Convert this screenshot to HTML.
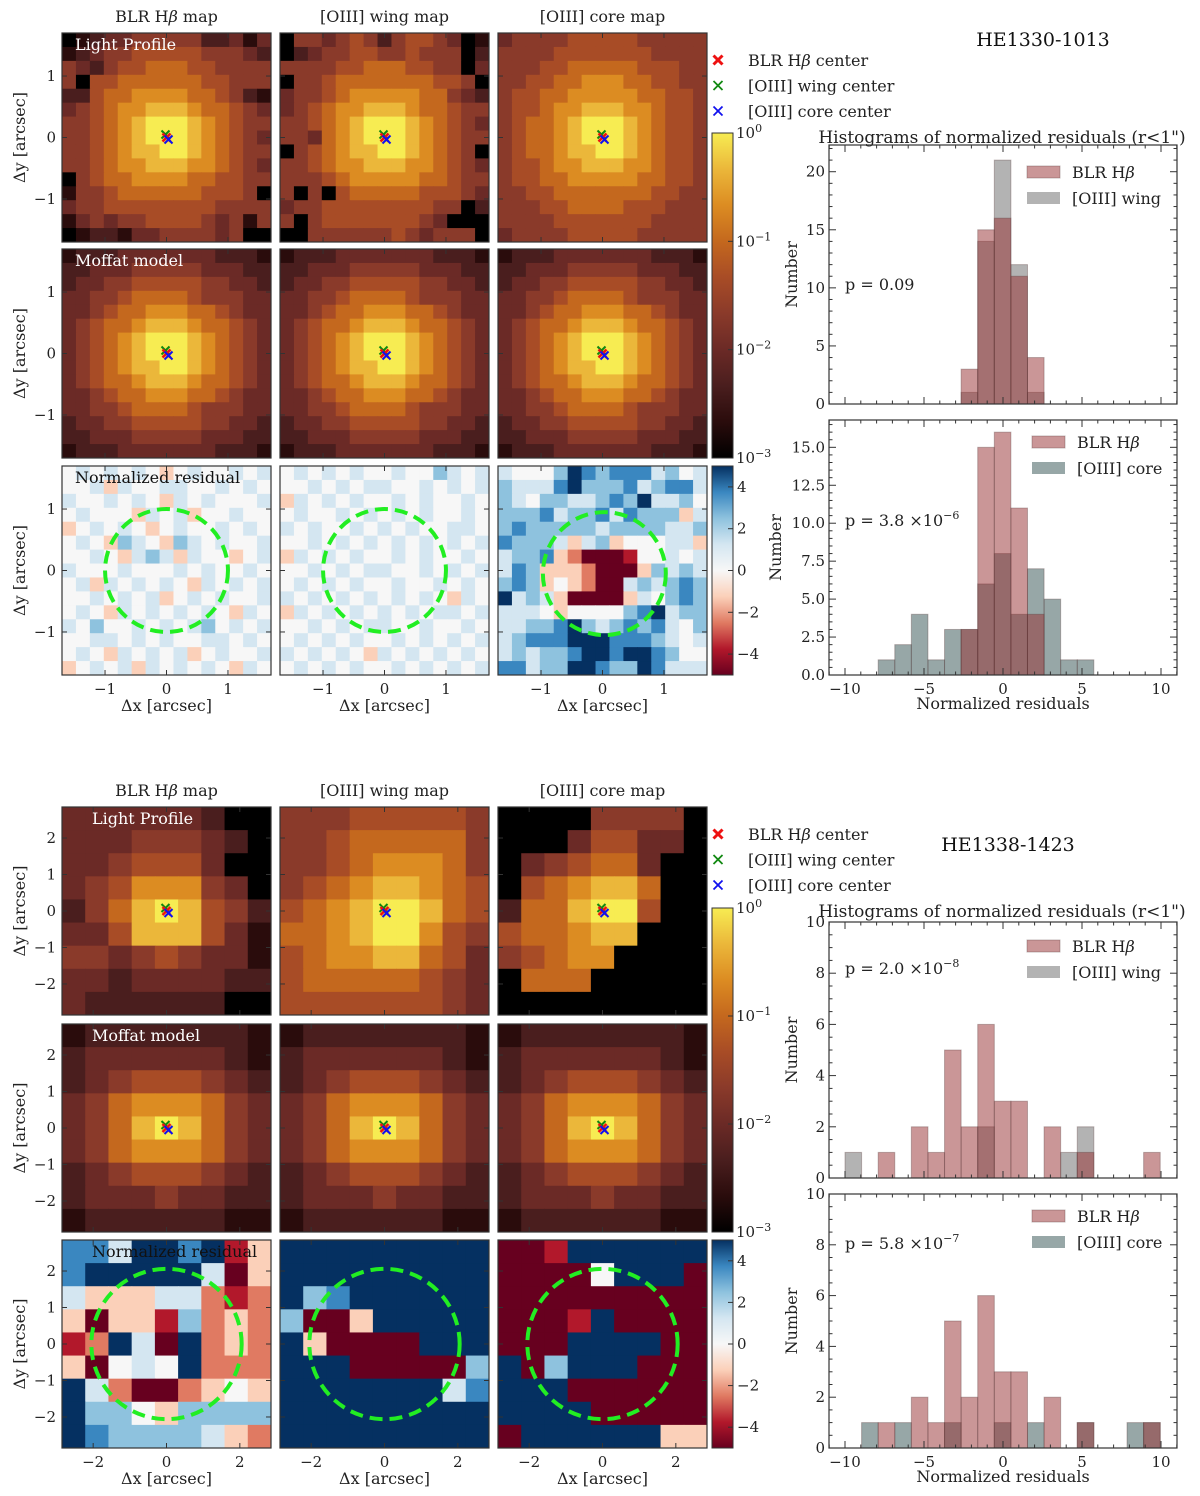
<!DOCTYPE html>
<html><head><meta charset="utf-8">
<style>
html,body{margin:0;padding:0;background:#fff;}
svg{display:block;font-family:"DejaVu Serif","Liberation Serif",serif;}
</style></head>
<body>
<svg id="fig" width="1200" height="1496" viewBox="0 0 1200 1496" xmlns="http://www.w3.org/2000/svg"></svg>
<script>
// ---------------- DATA ----------------
const topBlrMap=["012334444422313","123445555544432","432455666554444","405566666655444","225667777665421","345677888766543","445678999876544","445678999876543","445678899876544","445677888776543","045667777665544","144566666655540","344555555554444","134344555543414","012213344443400"];
const topWingMap=["044345424554301","023445544544402","444455666554403","044566666665540","344567777766432","345677888766544","445678999876543","443678999876544","045678899876540","445677888776543","444567777766544","404056666655543","344555555554402","404555555543000","004444445434440"];
const topCoreMap=["344445555544444","444455555554444","444556666655544","445566777665544","455667777766554","455677888776554","456678999876554","456678999876554","456678899876554","455677888776554","455667777766554","445566666665544","444556666555444","444455555554444","344445555544444"];
const topModel=["122233333332221","223334444433322","233445555544332","334456666544433","334566777665433","345667888766543","345678999876543","345678999876543","345678899876543","345667888766543","334566777665433","334456666544433","233445555544332","223334444433322","122233333332221"];
const topBlrRes=["454545434544545","445354455445454","544545435454445","454443545344544","345454345445454","454365436545445","445435653544345","544454445454454","453545454354545","445454534545445","454354545454354","546445454564545","445545454455454","454354545345445","345453545454354"];
const topWingRes=["454545445446545","445454554454545","354545445454454","454454545454454","545445454544554","445454545454545","354545445454454","445454554454545","454545445445454","545454545454354","354545454545545","445454554454454","454545445454545","545454354545454","454545445454545"];
const topCoreRes=["544468767775645","655578666756775","654665567685564","666756675766635","676666656666556","766653563444553","566732000144545","576333200036565","676343200565676","856530000354676","555434444678566","556678656767546","567778887776545","565667887887644","775668876687555"];
const botBlrMap=["333333200","333444320","334555300","345777430","246898542","335888531","443454331","332333322","322222200"];
const botWingMap=["444555554","445666664","445677764","456788765","567899865","667899754","567788653","566666543","555555543"];
const botCoreMap=["000044440","000355330","034566300","056788600","266899500","566788000","456770000","066600000","000000000"];
const botModel=["122222221","233333321","234555432","346777643","346898643","346777643","234555432","233343322","122222211"];
const botBlrRes=["775887813","788888503","533355212","303316232","128508232","304548222","852002343","866436666","876666532"];
const botWingRes=["888888888","888888888","867888888","600388888","830000888","888000006","888888857","888888888","888888888"];
const botCoreRes=["001888888","000048880","000000000","000180000","000888800","806888000","888000000","888800000","088888833"];
const h1Blr=[0,0,0,0,0,0,0,3,15,16,11,4,0,0,0,0,0,0,0,0];
const h1Wing=[0,0,0,0,0,0,0,1,14,21,12,1,0,0,0,0,0,0,0,0];
const h2Blr=[0,0,0,0,0,0,0,3,15,16,11,4,0,0,0,0,0,0,0,0];
const h2Core=[0,0,1,2,4,1,3,3,6,8,4,7,5,1,1,0,0,0,0,0];
const h3Blr=[0,0,1,0,2,1,5,2,6,3,3,0,2,0,1,0,0,0,1,0];
const h3Wing=[1,0,0,0,0,0,0,0,2,0,0,0,0,1,2,0,0,0,0,0];
const h4Blr=[0,0,1,0,2,1,5,2,6,3,3,0,2,0,1,0,0,0,1,0];
const h4Core=[0,1,0,1,0,0,1,0,0,1,0,1,0,0,1,0,0,1,1,0];
const binStart=-10, binWidth=1.05;

// ---------------- DRAW ----------------
const NS="http://www.w3.org/2000/svg";
const svg=document.getElementById('fig');
function el(tag,attrs,parent){const e=document.createElementNS(NS,tag);for(const k in attrs)e.setAttribute(k,attrs[k]);(parent||svg).appendChild(e);return e;}
function txt(x,y,s,size,anchor,fill,parent){const t=el('text',{x:x,y:y,'font-size':size,'text-anchor':anchor||'start',fill:fill||'#222'},parent);t.textContent=s;return t;}
const heatPal=["#000000","#2a0c0c","#4a1e1e","#6b2a26","#8a3a2a","#a84c26","#c4681e","#dc8c22","#ebb73a","#f7ec52"];
const resPal=["#67001f","#b2182b","#e07a62","#fbd0b9","#f7f7f7","#d4e6f1","#8ec2de","#3a87c0","#053061"];

const colsX=[62,280,498], W=209;
function drawMap(grid,pal,x0,y0,w,h,name){
  const g=el('g',{});
  
  
  const n=grid.length, cw=w/n, ch=h/n;
  for(let r=0;r<n;r++)for(let c=0;c<n;c++){
    const rc=el('rect',{x:x0+c*cw,y:y0+r*ch,width:cw+0.5,height:ch+0.5,fill:pal[+grid[r][c]]},g);
    
    
  }
  return g;
}
function frame(x0,y0,w,h,ext,xticks,yticks,showX,showY,name){
  const g=el('g',{});
  
  
  el('rect',{x:x0,y:y0,width:w,height:h,fill:'none',stroke:'#333','stroke-width':1.2},g);
  const sx=v=>x0+w/2+v*(w/2)/ext, sy=v=>y0+h/2-v*(h/2)/ext;
  const fmt=t=>t<0?'\u2212'+(-t):''+t;
  xticks.forEach(t=>{
    el('line',{x1:sx(t),x2:sx(t),y1:y0+h,y2:y0+h-5,stroke:'#333'},g);
    el('line',{x1:sx(t),x2:sx(t),y1:y0,y2:y0+5,stroke:'#333'},g);
    if(showX)txt(sx(t),y0+h+19,fmt(t),15,'middle','#222',g);
  });
  yticks.forEach(t=>{
    el('line',{x1:x0,x2:x0+5,y1:sy(t),y2:sy(t),stroke:'#333'},g);
    el('line',{x1:x0+w,x2:x0+w-5,y1:sy(t),y2:sy(t),stroke:'#333'},g);
    if(showY)txt(x0-6,sy(t)+5,fmt(t),15,'end','#222',g);
  });
  return {sx,sy};
}
function cross(x,y,col,s,w){el('line',{x1:x-s,y1:y-s,x2:x+s,y2:y+s,stroke:col,'stroke-width':w});el('line',{x1:x-s,y1:y+s,x2:x+s,y2:y-s,stroke:col,'stroke-width':w});}

function panel(cfg){
  const rows=cfg.rows, h=cfg.h;
  ['BLR H\u03b2 map','[OIII] wing map','[OIII] core map'].forEach((s,i)=>{
    const t=txt(colsX[i]+W/2,rows[0]-11,'',16,'middle');
    t.innerHTML=s.replace('\u03b2','<tspan font-style="italic">\u03b2</tspan>');
    
  });
  const maps=cfg.maps;
  for(let r=0;r<3;r++)for(let c=0;c<3;c++){
    drawMap(maps[r][c],r==2?resPal:heatPal,colsX[c],rows[r],W,h,['light-map','model-map','residual-map'][r]+'-'+c);
    const ax=frame(colsX[c],rows[r],W,h,cfg.ext,cfg.xticks,cfg.yticks,r==2,c==0,'map-axes');
    if(r<2){
      const cx=ax.sx(0),cy=ax.sy(0);
      cross(cx-1,cy-3,'#118811',4,2);cross(cx,cy,'#ee1111',4,2.5);cross(cx+2,cy+2,'#1111ee',4,2);
    } else {
      const rad=cfg.circR*(W/2)/cfg.ext;
      const cc=el('circle',{cx:ax.sx(cfg.circOff[c][0]),cy:ax.sy(cfg.circOff[c][1]),r:rad,fill:'none',stroke:'#22ee22','stroke-width':4,'stroke-dasharray':'13,7'});
      
    }
    if(r==2)txt(colsX[c]+W/2,rows[2]+h+36,'\u0394x [arcsec]',16,'middle');
  }
  for(let r=0;r<3;r++){const t=txt(0,0,'\u0394y [arcsec]',16,'middle');t.setAttribute('transform','translate(25,'+(rows[r]+h/2)+') rotate(-90)');}
  const lab=[['Light Profile','#fff'],['Moffat model','#fff'],['Normalized residual','#111']];
  lab.forEach((l,r)=>txt(cfg.labX,rows[r]+17,l[0],16,'start',l[1]));
  const cb1=el('defs',{});
  const lg=el('linearGradient',{id:'hg'+cfg.id,x1:0,y1:1,x2:0,y2:0},cb1);
  heatPal.forEach((p,i)=>el('stop',{offset:i/9,'stop-color':p},lg));
  const lg2=el('linearGradient',{id:'rg'+cfg.id,x1:0,y1:1,x2:0,y2:0},cb1);
  resPal.forEach((p,i)=>el('stop',{offset:i/8,'stop-color':p},lg2));
  const cbTop=cfg.cbTop, cbBot=rows[1]+h;
  const c1=el('rect',{x:712,y:cbTop,width:21,height:cbBot-cbTop,fill:'url(#hg'+cfg.id+')',stroke:'#333'});
  
  for(let k=0;k<=3;k++){const y=cbTop+k*(cbBot-cbTop)/3;const t=txt(736,y+5,'',15);t.innerHTML='10<tspan dy="-6" font-size="11">'+(k==0?'0':'\u2212'+k)+'</tspan>';el('line',{x1:728,x2:733,y1:y,y2:y,stroke:'#333'});}
  const c2=el('rect',{x:712,y:rows[2],width:21,height:h,fill:'url(#rg'+cfg.id+')',stroke:'#333'});
  
  [4,2,0,-2,-4].forEach(v=>{const y=rows[2]+h/2-v*h/10;txt(737,y+5,v<0?'\u2212'+(-v):''+v,15);el('line',{x1:728,x2:733,y1:y,y2:y,stroke:'#333'});});
  const L=cfg.legY;
  [['#ee1111','BLR H\u03b2 center'],['#118811','[OIII] wing center'],['#1111ee','[OIII] core center']].forEach((e,i)=>{
    cross(718,L+i*25.5,e[0],4.5,e[0]=='#ee1111'?3:1.8);
    const t=txt(748,L+i*25.5+6,'',16);t.innerHTML=e[1].replace('\u03b2','<tspan font-style="italic">\u03b2</tspan>');
  });
  const tt=txt(cfg.titleX,cfg.titleY,cfg.title,19,'middle','#111');
  txt(1002,cfg.histTitleY,'Histograms of normalized residuals (r<1")',17,'middle');
}

function hist(cfg){
  const x0=829,x1=1177,y0=cfg.top,y1=cfg.bot;
  const g=el('g',{});
  
  
  const hx=v=>845+(v+10)*15.8, hy=v=>y1-v*(y1-y0)/cfg.ymax;
  const series=[[cfg.b,cfg.bCol],[cfg.a,cfg.aCol]];
  series.forEach(s=>{
    s[0].forEach((n,i)=>{
      if(!n)return;
      const l=binStart+i*binWidth;
      const b=el('rect',{x:hx(l),y:hy(n),width:hx(l+binWidth)-hx(l),height:hy(0)-hy(n),fill:s[1],stroke:'rgba(90,60,60,0.35)','stroke-width':1},g);
      
      
    });
  });
  el('rect',{x:x0,y:y0,width:x1-x0,height:y1-y0,fill:'none',stroke:'#333','stroke-width':1.2},g);
  for(let v=-11;v<=11;v++){const x=hx(v);if(x>x1||x<x0)continue;const L=v%5==0?7:3.5;
    el('line',{x1:x,x2:x,y1:y1,y2:y1-L,stroke:'#333'},g);el('line',{x1:x,x2:x,y1:y0,y2:y0+L,stroke:'#333'},g);
    if(v%5==0&&cfg.xlab)txt(x,y1+19,v<0?'\u2212'+(-v):''+v,15,'middle','#222',g);}
  for(let v=0;v<=cfg.ymax+1e-6;v+=cfg.minor){const y=hy(v);const maj=Math.abs(v/cfg.major-Math.round(v/cfg.major))<1e-6;const L=maj?7:3.5;
    el('line',{x1:x0,x2:x0+L,y1:y,y2:y,stroke:'#333'},g);el('line',{x1:x1,x2:x1-L,y1:y,y2:y,stroke:'#333'},g);
    if(maj)txt(x0-4,y+5,cfg.fmt(v),15,'end','#222',g);}
  const t=txt(0,0,'Number',16,'middle');t.setAttribute('transform','translate('+cfg.numX+','+((y0+y1)/2)+') rotate(-90)');
  if(cfg.xlab)txt(1003,y1+34,'Normalized residuals',16,'middle');
  const p=txt(845,cfg.pY,'',16);p.innerHTML=cfg.p;
  const ly=cfg.legY, lx=cfg.legX;
  el('rect',{x:lx,y:ly-6,width:33,height:12,fill:cfg.aCol,stroke:'rgba(90,60,60,0.35)'});
  const a=txt(lx+45,ly+6,'',16);a.innerHTML='BLR H<tspan font-style="italic">\u03b2</tspan>';
  el('rect',{x:lx,y:ly+20,width:33,height:12,fill:cfg.bCol});
  txt(lx+45,ly+32,cfg.bName,16);
}

const pink='rgba(150,45,48,0.5)', grey='rgba(128,128,128,0.6)', slate='rgba(47,79,79,0.5)';
panel({id:'a',rows:[33,249,466],h:209,ext:1.7,xticks:[-1,0,1],yticks:[-1,0,1],circR:1,circOff:[[0,0],[0,0],[0.03,-0.05]],labX:75,
  maps:[[topBlrMap,topWingMap,topCoreMap],[topModel,topModel,topModel],[topBlrRes,topWingRes,topCoreRes]],
  cbTop:133,legY:60,title:'HE1330-1013',titleX:1043,titleY:46,histTitleY:143});
panel({id:'b',rows:[807,1024,1240],h:208,ext:2.85,xticks:[-2,0,2],yticks:[-2,-1,0,1,2],circR:2.05,circOff:[[0,0],[0,0],[0,0]],labX:92,
  maps:[[botBlrMap,botWingMap,botCoreMap],[botModel,botModel,botModel],[botBlrRes,botWingRes,botCoreRes]],
  cbTop:908,legY:834,title:'HE1338-1423',titleX:1008,titleY:851,histTitleY:917});
const fInt=v=>''+Math.round(v), f1=v=>v.toFixed(1);
hist({name:'hist-top-wing',top:145,bot:404,ymax:22.3,major:5,minor:1,fmt:fInt,a:h1Blr,b:h1Wing,aCol:pink,bCol:grey,bName:'[OIII] wing',p:'p = 0.09',pY:290,legX:1027,legY:172,numX:797,xlab:false});
hist({name:'hist-top-core',top:420,bot:675,ymax:16.8,major:2.5,minor:0.5,fmt:f1,a:h2Blr,b:h2Core,aCol:pink,bCol:slate,bName:'[OIII] core',p:'p = 3.8 \u00d710<tspan dy="-7" font-size="11">\u22126</tspan>',pY:526,legX:1032,legY:442,numX:781,xlab:true});
hist({name:'hist-bottom-wing',top:922,bot:1178,ymax:10,major:2,minor:0.5,fmt:fInt,a:h3Blr,b:h3Wing,aCol:pink,bCol:grey,bName:'[OIII] wing',p:'p = 2.0 \u00d710<tspan dy="-7" font-size="11">\u22128</tspan>',pY:974,legX:1027,legY:946,numX:797,xlab:false});
hist({name:'hist-bottom-core',top:1194,bot:1448,ymax:10,major:2,minor:0.5,fmt:fInt,a:h4Blr,b:h4Core,aCol:pink,bCol:slate,bName:'[OIII] core',p:'p = 5.8 \u00d710<tspan dy="-7" font-size="11">\u22127</tspan>',pY:1249,legX:1032,legY:1216,numX:797,xlab:true});
</script>
</body></html>
